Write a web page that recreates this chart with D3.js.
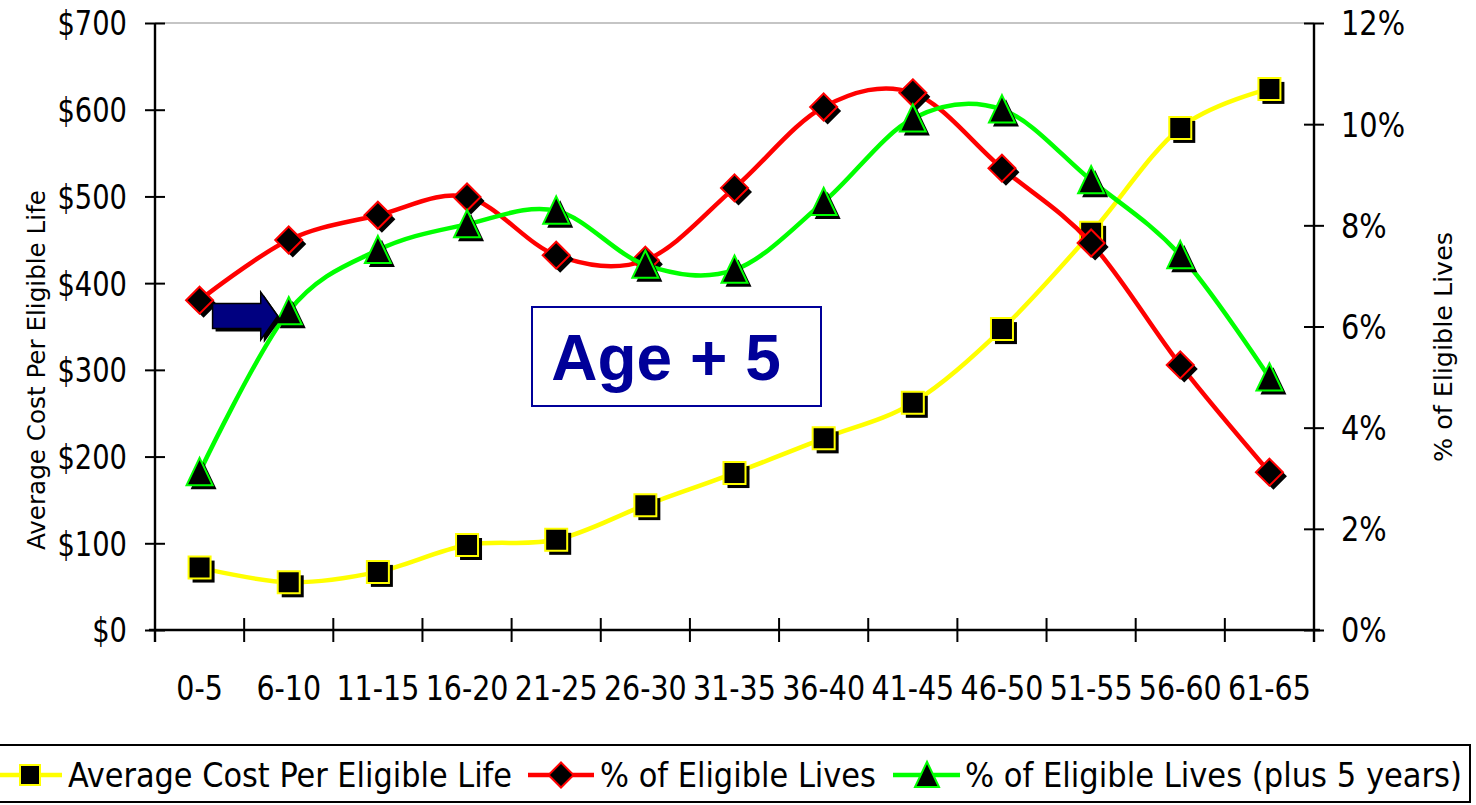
<!DOCTYPE html>
<html><head><meta charset="utf-8">
<script src="https://cdn.jsdelivr.net/npm/d3@7"></script>
<style>body{margin:0;background:#fff}svg{display:block}</style>
</head><body>
<svg id="c" width="1476" height="805"></svg>
<script>
// ---- data ----
const categories = ["0-5","6-10","11-15","16-20","21-25","26-30","31-35","36-40","41-45","46-50","51-55","56-60","61-65"];
const avgCost = [72, 55, 67, 98, 104, 144, 181, 221, 262, 347, 458, 579, 624];
const pctLives = [6.52, 7.71, 8.20, 8.56, 7.41, 7.31, 8.74, 10.34, 10.62, 9.13, 7.65, 5.24, 3.12];
const pctLivesPlus5 = [3.12, 6.30, 7.51, 8.02, 8.29, 7.22, 7.12, 8.46, 10.11, 10.29, 8.89, 7.41, 4.99];
const costTicks = [0,100,200,300,400,500,600,700];
const pctTicks = [0,2,4,6,8,10,12];
const seriesNames = ["Average Cost Per Eligible Life", "% of Eligible Lives", "% of Eligible Lives (plus 5 years)"];
const leftTitle = "Average Cost Per Eligible Life";
const rightTitle = "% of Eligible Lives";
const annotation = "Age + 5";

// ---- layout ----
const L = 155, R = 1314, T = 23, B = 630;
const svg = d3.select("#c");
const FONT = "'DejaVu Sans Condensed','DejaVu Sans',sans-serif";

const x = d3.scaleBand().domain(categories).range([L, R]);
const xc = c => x(c) + x.bandwidth()/2;
const yL = d3.scaleLinear().domain([0,700]).range([B, T]);
const yR = d3.scaleLinear().domain([0,12]).range([B, T]);

function squeeze(sel, f) {
  sel.each(function(){ const w = this.getComputedTextLength(); d3.select(this).attr("textLength", w*f).attr("lengthAdjust","spacingAndGlyphs"); });
}

// plot area top border
svg.append("line").attr("x1",L).attr("x2",R).attr("y1",T).attr("y2",T)
  .attr("stroke","#8c8c8c").attr("stroke-width",1.2);

// left axis
const gl = svg.append("g").attr("transform",`translate(${L},0)`)
  .call(d3.axisLeft(yL).tickValues(costTicks).tickFormat(d=>"$"+d).tickSize(10).tickPadding(18));
gl.select(".domain").remove();
gl.selectAll(".tick line").attr("x1",-10).attr("x2",10).attr("stroke","#000").attr("stroke-width",2);
gl.selectAll(".tick text").attr("font-family",FONT).attr("font-size",33).attr("fill","#000").attr("dy","0.36em");
squeeze(gl.selectAll(".tick text"), 0.92);
svg.append("line").attr("x1",L).attr("x2",L).attr("y1",T).attr("y2",B+12).attr("stroke","#000").attr("stroke-width",2.4);

// right axis
const gr = svg.append("g").attr("transform",`translate(${R},0)`)
  .call(d3.axisRight(yR).tickValues(pctTicks).tickFormat(d=>d+"%").tickSize(10).tickPadding(17));
gr.select(".domain").remove();
gr.selectAll(".tick line").attr("x1",-10).attr("x2",10).attr("stroke","#000").attr("stroke-width",2);
gr.selectAll(".tick text").attr("font-family",FONT).attr("font-size",33).attr("fill","#000").attr("dy","0.36em");
squeeze(gr.selectAll(".tick text"), 0.97);
svg.append("line").attr("x1",R).attr("x2",R).attr("y1",T).attr("y2",B+12).attr("stroke","#000").attr("stroke-width",2.4);

// x axis
svg.append("line").attr("x1",L-6).attr("x2",R+6).attr("y1",B).attr("y2",B).attr("stroke","#000").attr("stroke-width",2.4);
const bounds = categories.map(c => x(c)).concat([R]);
svg.selectAll(".xt").data(bounds).join("line").attr("class","xt")
  .attr("x1",d=>d).attr("x2",d=>d).attr("y1",B-12).attr("y2",B+12).attr("stroke","#000").attr("stroke-width",2);
const xl = svg.selectAll(".xl").data(categories).join("text").attr("class","xl")
  .attr("x",d=>xc(d)).attr("y",B+58).attr("dy","0.36em").attr("text-anchor","middle")
  .attr("font-family",FONT).attr("font-size",33).attr("fill","#000").text(d=>d);
squeeze(xl, 0.96);

// axis titles
svg.append("text").attr("transform",`translate(45,370) rotate(-90)`).attr("text-anchor","middle")
  .attr("font-family",FONT).attr("font-size",25).attr("fill","#000")
  .attr("textLength",360).attr("lengthAdjust","spacingAndGlyphs").text(leftTitle);
svg.append("text").attr("transform",`translate(1452,347) rotate(-90)`).attr("text-anchor","middle")
  .attr("font-family",FONT).attr("font-size",25).attr("fill","#000")
  .attr("textLength",230).attr("lengthAdjust","spacingAndGlyphs").text(rightTitle);

// marker shapes
const shapes = {
  square: s => `M${-s/2},${-s/2}h${s}v${s}h${-s}Z`,
  diamond: s => `M0,${-s/2}L${s/2},0L0,${s/2}L${-s/2},0Z`,
  triangle: s => `M0,${-s*0.55}L${s*0.5},${s*0.5}L${-s*0.5},${s*0.5}Z`
};

const series = [
  {vals: avgCost, y: yL, color: "#ffff00", shape: "square", size: 22},
  {vals: pctLives, y: yR, color: "#ff0000", shape: "diamond", size: 27},
  {vals: pctLivesPlus5, y: yR, color: "#00ff00", shape: "triangle", size: 26}
];

const line = d3.line().curve(d3.curveCardinal.tension(0));

series.forEach(s => {
  const pts = categories.map((c,i) => [xc(c), s.y(s.vals[i])]);
  svg.append("path").attr("d", line(pts)).attr("fill","none")
    .attr("stroke", s.color).attr("stroke-width", 4.5).attr("stroke-linejoin","round");
  const g = svg.append("g");
  g.selectAll(".sh").data(pts).join("path").attr("class","sh")
    .attr("transform", p => `translate(${p[0]+4},${p[1]+4})`)
    .attr("d", shapes[s.shape](s.size)).attr("fill","#000");
  g.selectAll(".mk").data(pts).join("path").attr("class","mk")
    .attr("transform", p => `translate(${p[0]},${p[1]})`)
    .attr("d", shapes[s.shape](s.size)).attr("fill","#000")
    .attr("stroke", s.color).attr("stroke-width", 2);
});

// arrow annotation (between first two categories)
{
  const x0 = xc(categories[0]) + 13, x1 = xc(categories[1]) - 11, cy = 316;
  const hx = x1 - 17, sh = 12.5, hh = 24;
  const arrow = `M${x0},${cy-sh}L${hx},${cy-sh}L${hx},${cy-hh}L${x1},${cy}L${hx},${cy+hh}L${hx},${cy+sh}L${x0},${cy+sh}Z`;
  svg.append("path").attr("d",arrow).attr("transform","translate(3,3)").attr("fill","#000");
  svg.append("path").attr("d",arrow).attr("fill","#000080").attr("stroke","#000").attr("stroke-width",1.5);
}

// "Age + 5" box
svg.append("rect").attr("x",532).attr("y",307).attr("width",289).attr("height",99)
  .attr("fill","#fff").attr("stroke","#000099").attr("stroke-width",2);
svg.append("text").attr("x",666).attr("y",357).attr("dy","0.36em").attr("text-anchor","middle")
  .attr("font-family","'Liberation Sans',Arial,sans-serif").attr("font-weight","bold")
  .attr("font-size",64).attr("fill","#000099").text(annotation);

// legend
svg.append("rect").attr("x",-2).attr("y",745).attr("width",1472).attr("height",57)
  .attr("fill","#fff").attr("stroke","#000").attr("stroke-width",2);
const leg = [
  {lx0: 0, lx1: 62, mx: 30, tx: 68, tl: 444},
  {lx0: 528, lx1: 594, mx: 561, tx: 600, tl: 276},
  {lx0: 893, lx1: 960, mx: 927, tx: 965, tl: 497}
];
const ly = 775;
series.forEach((s,i) => {
  const l = leg[i];
  svg.append("line").attr("x1",l.lx0).attr("x2",l.lx1).attr("y1",ly).attr("y2",ly)
    .attr("stroke",s.color).attr("stroke-width",4.5);
  svg.append("path").attr("transform",`translate(${l.mx},${ly})`)
    .attr("d", shapes[s.shape](s.shape==="square"?20:s.size-2)).attr("fill","#000")
    .attr("stroke",s.color).attr("stroke-width",2);
  svg.append("text").attr("x",l.tx).attr("y",ly).attr("dy","0.36em")
    .attr("font-family",FONT).attr("font-size",33).attr("fill","#000")
    .attr("textLength",l.tl).attr("lengthAdjust","spacingAndGlyphs").text(seriesNames[i]);
});
</script>
</body></html>
